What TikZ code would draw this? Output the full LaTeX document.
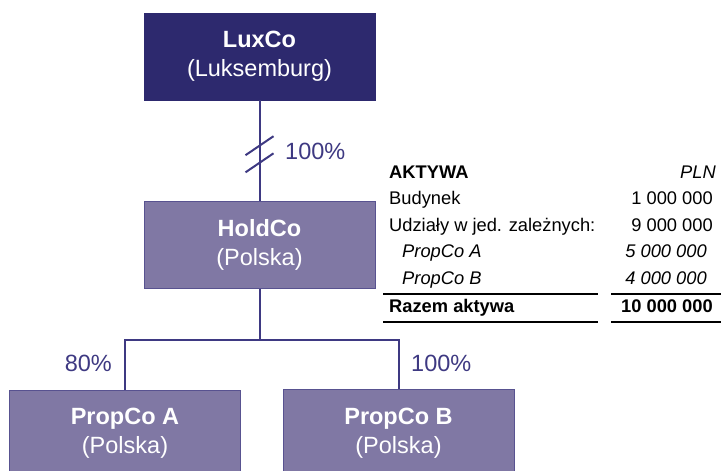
\documentclass[tikz,border=0pt]{standalone}
\usepackage{fontspec}
\setmainfont{Liberation Sans}
\usetikzlibrary{calc}

\definecolor{luxblue}{RGB}{45,41,110}
\definecolor{plblue}{RGB}{128,120,164}
\definecolor{plborder}{RGB}{88,82,144}
\definecolor{linkblue}{RGB}{62,57,130}

\tikzset{
	company/.style={fill=#1, draw=plborder, line width=0.8pt, minimum width=231pt, minimum height=87pt,
		inner sep=0pt, align=center, text=white, font=\fontsize{23.5}{29}\selectfont},
	link/.style={draw=linkblue, line width=2pt},
	pct/.style={text=linkblue, inner sep=0pt, font=\fontsize{23.5}{27}\selectfont},
	tabl/.style={anchor=mid west, inner sep=0pt, font=\fontsize{18.3}{20}\selectfont},
	tabr/.style={anchor=mid east, inner sep=0pt, font=\fontsize{18.3}{20}\selectfont},
	rule/.style={draw=black, line width=#1}
}

\begin{document}
\begin{tikzpicture}[x=1pt,y=-1pt]
		\useasboundingbox (0,0) rectangle (721,471);

		% spolki
		\node[company=luxblue, draw=luxblue] (lux) at (259.5,56.5) {\textbf{LuxCo}\\(Luksemburg)};
		\node[company=plblue] (hold) at (259.5,245) {\textbf{HoldCo}\\(Polska)};
		\node[company=plblue] (propa) at (125,433.5) {\textbf{PropCo A}\\(Polska)};
		\node[company=plblue] (propb) at (398.5,433) {\textbf{PropCo B}\\(Polska)};

		% powiazania
		\draw[link] (lux.south) -- (hold.north);
		\draw[link] ($(lux.south)!0.45!(hold.north)$) ++(-14,9.5) -- ++(28,-19);
		\draw[link] ($(lux.south)!0.62!(hold.north)$) ++(-14,9.5) -- ++(28,-19);
		\coordinate (fork) at (hold.south |- 0,340);
		\draw[link] (hold.south) -- (fork);
		\draw[link] (propa.north) |- (fork) -| (propb.north);

		\node[pct, anchor=west] (plux) at (285,151) {100\%};
		\node[pct, anchor=east] (pa) at (112,363) {80\%};
		\node[pct, anchor=west] (pb) at (411,363) {100\%};

		% bilans HoldCo
		\node[tabl] (aktywa) at (389,176) {\textbf{AKTYWA}};
		\node[tabr] (pln) at (716,176) {\textit{PLN}};
		\node[tabl] (bud) at (389,202) {Budynek};
		\node[tabr] (vbud) at (713,202) {1 000 000};
		\node[tabl] (udz) at (389,229) {Udziały w jed. zależnych:};
		\node[tabr] (vudz) at (713,229) {9 000 000};
		\node[tabl] (ta) at (402,255) {\textit{PropCo A}};
		\node[tabr] (vta) at (707,255) {\textit{5 000 000}};
		\node[tabl] (tb) at (402,282) {\textit{PropCo B}};
		\node[tabr] (vtb) at (707,282) {\textit{4 000 000}};
		\node[tabl] (razem) at (389,310) {\textbf{Razem aktywa}};
		\node[tabr] (vrazem) at (713,310) {\textbf{10 000 000}};

		\draw[rule=2pt] (383,294) -- (598,294);
		\draw[rule=2pt] (611,294) -- (721,294);
		\draw[rule=1.4pt] (383,322) -- (598,322);
		\draw[rule=1.4pt] (611,322) -- (721,322);
\end{tikzpicture}
\end{document}
